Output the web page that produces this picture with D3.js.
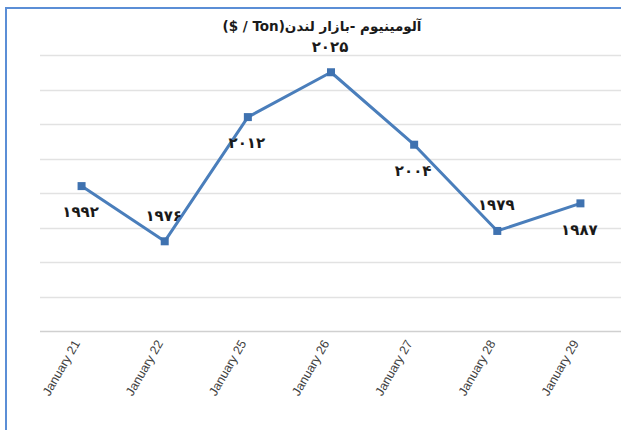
<!DOCTYPE html>
<html>
<head>
<meta charset="utf-8">
<script src="https://cdn.jsdelivr.net/npm/d3@7"></script>
<style>
  body { margin: 0; background: #fff; }
  svg { display: block; }
</style>
</head>
<body>
<div class="graph"></div>
<script>
// chart data
var days = ["January 21", "January 22", "January 25", "January 26", "January 27", "January 28", "January 29"];
var prices = [1992, 1976, 2012, 2025, 2004, 1979, 1987];
var labelSide = [1, -1, 1, -1, 1, -1, 1]; // 1 = below the point, -1 = above
var gridTicks = [1950, 1960, 1970, 1980, 1990, 2000, 2010, 2020, 2030];
var title = "آلومینیوم -بازار لندن(Ton / $)";

var lineColour = "#4a7ebb";
var width = 621,
    height = 430;

var persianDigits = "۰۱۲۳۴۵۶۷۸۹";
function toPersian(n) {
    return String(n).replace(/[0-9]/g, function(c) { return persianDigits[+c]; });
}

var svg = d3.select(".graph").append("svg")
    .attr("width", width)
    .attr("height", height);

// frame
svg.append("rect")
    .attr("x", 6).attr("y", 8)
    .attr("width", width + 10).attr("height", height + 10)
    .style("fill", "none")
    .style("stroke", "#5b8ed6")
    .style("stroke-width", 2);

var x = d3.scaleBand()
    .domain(days)
    .range([40, 622]);

var y = d3.scaleLinear()
    .domain([1950, 2030])
    .range([331, 55]);

// gridlines
svg.append("g").selectAll("line")
    .data(gridTicks)
    .enter().append("line")
    .attr("x1", 40).attr("x2", 622)
    .attr("y1", function(d) { return Math.round(y(d)) + 0.5; })
    .attr("y2", function(d) { return Math.round(y(d)) + 0.5; })
    .style("stroke", function(d, i) { return i === 0 ? "#d0d0d0" : "#e2e2e2"; })
    .style("stroke-width", 1.5);

// x labels
svg.append("g").selectAll("text")
    .data(days)
    .enter().append("text")
    .attr("transform", function(d) {
        return "translate(" + (x(d) + x.bandwidth() / 2 - 5) + ",341) rotate(-60)";
    })
    .attr("text-anchor", "end")
    .attr("dy", "0.35em")
    .style("font-family", "'Liberation Sans', Arial, sans-serif")
    .style("font-size", "12.5px")
    .style("fill", "#404040")
    .text(function(d) { return d; });

var cx = function(d, i) { return x(days[i]) + x.bandwidth() / 2; };

var line = d3.line()
    .x(cx)
    .y(function(d) { return y(d); });

svg.append("path")
    .datum(prices)
    .attr("d", line)
    .style("fill", "none")
    .style("stroke", lineColour)
    .style("stroke-width", 3)
    .style("stroke-linejoin", "round");

svg.append("g").selectAll("rect")
    .data(prices)
    .enter().append("rect")
    .attr("x", function(d, i) { return cx(d, i) - 4; })
    .attr("y", function(d) { return y(d) - 4; })
    .attr("width", 8).attr("height", 8)
    .style("fill", "#3f72b0");

// value labels
svg.append("g").selectAll("text")
    .data(prices)
    .enter().append("text")
    .attr("x", function(d, i) { return cx(d, i) - 1; })
    .attr("y", function(d, i) { return y(d) + labelSide[i] * 26; })
    .attr("dy", "0.35em")
    .attr("text-anchor", "middle")
    .style("font-family", "'DejaVu Sans', sans-serif")
    .style("font-weight", "bold")
    .style("font-size", "15px")
    .style("fill", "#1a1a1a")
    .text(function(d) { return toPersian(d); });

svg.append("text")
    .attr("x", 322)
    .attr("y", 31)
    .attr("text-anchor", "middle")
    .attr("direction", "rtl")
    .style("font-family", "'DejaVu Sans', sans-serif")
    .style("font-weight", "bold")
    .style("font-size", "13.5px")
    .style("fill", "#1a1a1a")
    .text(title);
</script>
</body>
</html>
